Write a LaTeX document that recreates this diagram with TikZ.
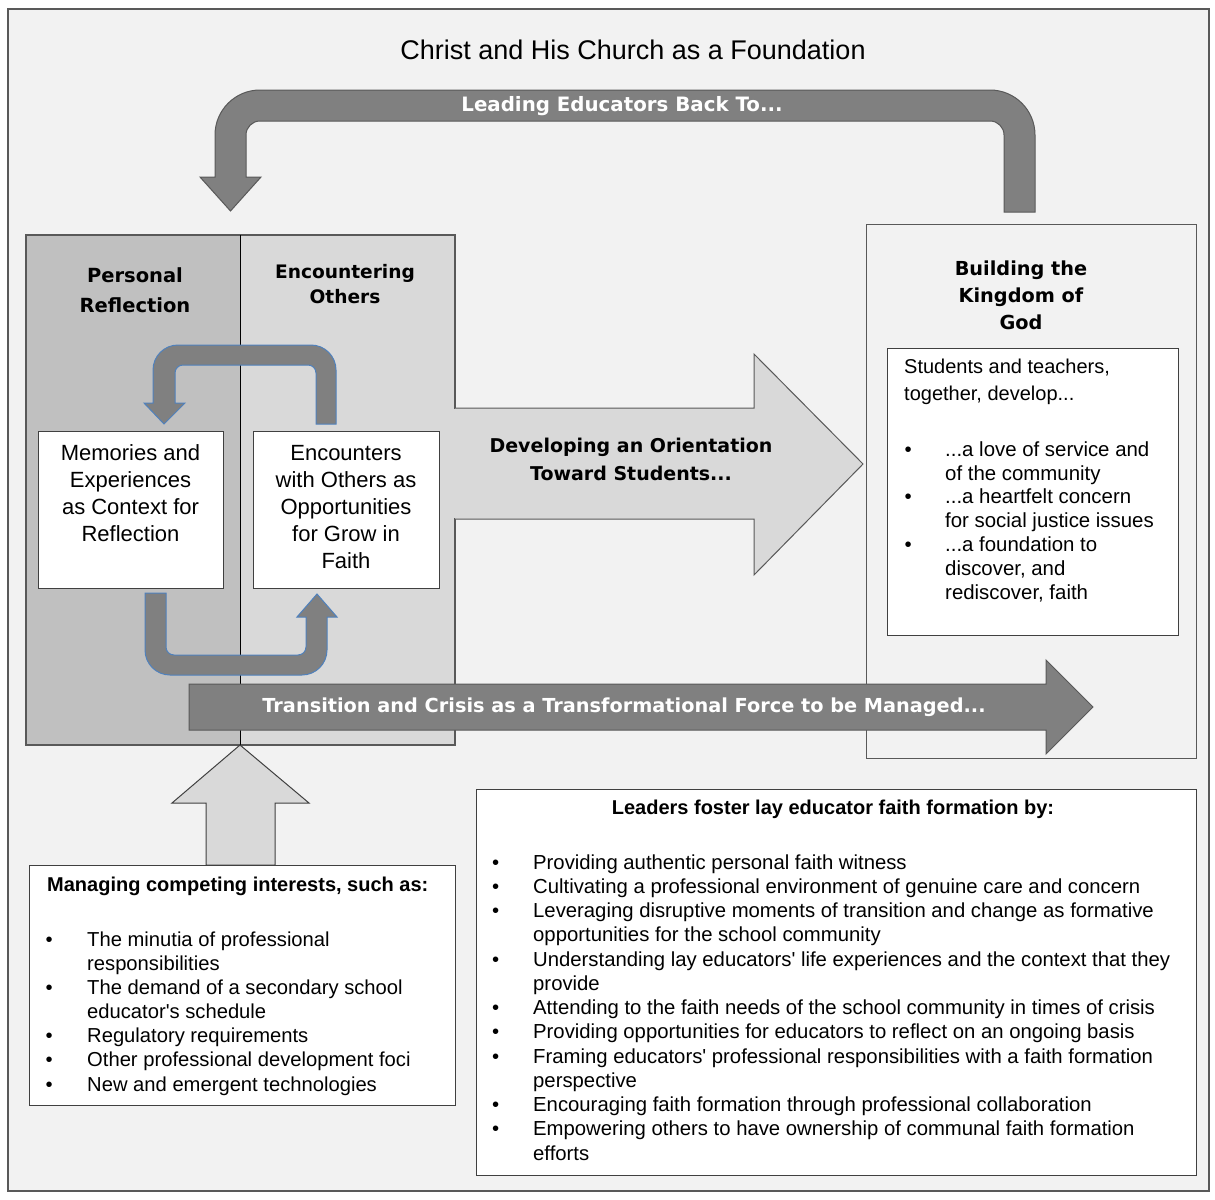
\documentclass[tikz,border=0pt]{standalone}
\usepackage{fontspec}
\setmainfont{Liberation Sans}[Ligatures=TeXOff]
\newfontfamily\hfont{DejaVu Sans}
\definecolor{bgc}{HTML}{F2F2F2}
\definecolor{darkfill}{HTML}{808080}
\definecolor{darkline}{HTML}{595959}
\definecolor{midfill}{HTML}{C0C0C0}
\definecolor{lightfill}{HTML}{D9D9D9}
\definecolor{bluel}{HTML}{4F81BD}
\definecolor{edge}{HTML}{404040}
\begin{document}
\begin{tikzpicture}[x=1pt,y=1pt,
  hd/.style={font=\hfont\bfseries\fontsize{19.3}{27}\selectfont, inner sep=0pt},
  body/.style={font=\fontsize{22}{27}\selectfont, inner sep=0pt},
  whitebox/.style={draw=edge, line width=1.2pt, fill=white, inner sep=0pt, anchor=north west},
  darkarrow/.style={fill=darkfill, draw=darkline, line width=1pt},
  lightarrow/.style={fill=lightfill, draw=darkline, line width=1pt},
  looparrow/.style={fill=darkfill, draw=bluel, line width=1pt},
  listnode/.style={anchor=north west, inner sep=0pt}]
\useasboundingbox (0,0) rectangle (1215,-1199);
\fill[white] (0,0) rectangle (1215,-1199);
% outer frame
\draw[draw=darkline, line width=1.2pt, fill=bgc] (8,-9) rectangle (1209,-1191);
\node (title) [inner sep=0pt, font=\fontsize{27}{30}\selectfont] at (633,-50) {Christ and His Church as a Foundation};

% left panel
\fill[midfill] (26,-235) rectangle (240,-745);
\fill[lightfill] (240,-235) rectangle (455,-745);
\draw[darkline, line width=1.2pt] (26,-235) rectangle (455,-745);
\draw[black, line width=0.8pt] (240,-235) -- (240,-745);
\node (pr) [hd, align=center, font=\hfont\bfseries\fontsize{19.5}{30}\selectfont] at (135,-290) {Personal\\Reflection};
\node (eo) [hd, align=center, font=\hfont\bfseries\fontsize{18.6}{25}\selectfont] at (345,-284) {Encountering\\Others};

% loop arrows
\draw[looparrow] (336,-424) -- (336,-370) arc[start angle=0,end angle=90,radius=25]
  -- (178,-345) arc[start angle=90,end angle=180,radius=25]
  -- (153,-403) -- (144,-403) -- (164,-424) -- (185,-403) -- (175,-403)
  -- (175,-373) arc[start angle=180,end angle=90,radius=8]
  -- (308,-365) arc[start angle=90,end angle=0,radius=8]
  -- (316,-424) -- cycle;
\draw[looparrow] (145,-593) -- (145,-650) arc[start angle=180,end angle=270,radius=25]
  -- (302,-675) arc[start angle=270,end angle=360,radius=25]
  -- (327,-617) -- (337,-617) -- (317,-594) -- (297,-617) -- (306,-617)
  -- (306,-647) arc[start angle=0,end angle=-90,radius=8]
  -- (174,-655) arc[start angle=270,end angle=180,radius=8]
  -- (166,-593) -- cycle;

% inner boxes
\node (mem) [whitebox, minimum width=185pt, minimum height=157pt] at (38,-431) {};
\node (memt) [body, align=center] at (130.5,-493) {Memories and\\Experiences\\as Context for\\Reflection};
\node (enc) [whitebox, minimum width=186pt, minimum height=157pt] at (253,-431) {};
\node (enct) [body, align=center] at (346,-507) {Encounters\\with Others as\\Opportunities\\for Grow in\\Faith};

% developing arrow
\draw[lightarrow] (455,-408) -- (754,-408) -- (754,-354) -- (863,-464) -- (754,-575) -- (754,-519) -- (455,-519);
\fill[lightfill] (454,-409) rectangle (456,-518);
\node (dev) [hd, align=center, font=\hfont\bfseries\fontsize{19}{28}\selectfont] at (631,-459) {Developing an Orientation\\Toward Students...};

% right box
\node (kb) [draw=darkline, fill=bgc, line width=1pt, minimum width=330pt, minimum height=534pt, anchor=north west, inner sep=0pt] at (866,-224) {};
\node (kt) [hd, align=center] at (1021,-295) {Building the\\Kingdom of\\God};
\node (kin) [whitebox, minimum width=291pt, minimum height=287pt] at (887,-348) {};
\node (kh) [listnode, font=\fontsize{20}{27}\selectfont] at (904,-354) {\begin{tabular}{@{}l@{}}Students and teachers,\\together, develop...\end{tabular}};
\node (kl) [listnode, font=\fontsize{20.4}{23.83}\selectfont] at (904.5,-439.3) {\begin{tabular}{@{}p{40.5pt}@{}l@{}}
\textbullet & ...a love of service and\\
 & of the community\\
\textbullet & ...a heartfelt concern\\
 & for social justice issues\\
\textbullet & ...a foundation to\\
 & discover, and\\
 & rediscover, faith
\end{tabular}};

% transition arrow
\draw[darkarrow] (189,-684) -- (1046,-684) -- (1046,-660) -- (1093,-707) -- (1046,-754) -- (1046,-730) -- (189,-730) -- cycle;
\node (trans) [hd, text=white] at (624,-707) {Transition and Crisis as a Transformational Force to be Managed...};

% top arrow
\draw[darkarrow] (1035,-212) -- (1035,-135) arc[start angle=0,end angle=90,radius=45]
  -- (260,-90) arc[start angle=90,end angle=180,radius=45]
  -- (215,-177) -- (200,-177) -- (230.5,-211) -- (261,-177) -- (246,-177)
  -- (246,-135) arc[start angle=180,end angle=90,radius=14]
  -- (990,-121) arc[start angle=90,end angle=0,radius=14]
  -- (1004,-212) -- cycle;
\node (lead) [hd, text=white, font=\hfont\bfseries\fontsize{19.8}{27}\selectfont] at (622,-106) {Leading Educators Back To...};

% up arrow
\draw[lightarrow, draw=edge] (206,-865) -- (206,-803) -- (172,-803) -- (240,-745) -- (309,-803) -- (275,-803) -- (275,-865) -- cycle;

% managing box
\node (mb) [whitebox, minimum width=426pt, minimum height=240pt] at (29,-865) {};
\node (mt) [anchor=base west, inner sep=0pt, font=\bfseries\fontsize{20}{24}\selectfont] at (47,-891) {Managing competing interests, such as:};
\node (ml) [listnode, font=\fontsize{20.2}{24.17}\selectfont] at (45.5,-929) {\begin{tabular}{@{}p{41.5pt}@{}l@{}}
\textbullet & The minutia of professional\\
 & responsibilities\\
\textbullet & The demand of a secondary school\\
 & educator's schedule\\
\textbullet & Regulatory requirements\\
\textbullet & Other professional development foci\\
\textbullet & New and emergent technologies
\end{tabular}};

% leaders box
\node (lb) [whitebox, minimum width=720pt, minimum height=386pt] at (476,-789) {};
\node (lt) [anchor=base, inner sep=0pt, font=\bfseries\fontsize{20}{24}\selectfont] at (833,-814) {Leaders foster lay educator faith formation by:};
\node (ll) [listnode, font=\fontsize{20.3}{24.25}\selectfont] at (492,-852) {\begin{tabular}{@{}p{41pt}@{}l@{}}
\textbullet & Providing authentic personal faith witness\\
\textbullet & Cultivating a professional environment of genuine care and concern\\
\textbullet & Leveraging disruptive moments of transition and change as formative\\
 & opportunities for the school community\\
\textbullet & Understanding lay educators' life experiences and the context that they\\
 & provide\\
\textbullet & Attending to the faith needs of the school community in times of crisis\\
\textbullet & Providing opportunities for educators to reflect on an ongoing basis\\
\textbullet & Framing educators' professional responsibilities with a faith formation\\
 & perspective\\
\textbullet & Encouraging faith formation through professional collaboration\\
\textbullet & Empowering others to have ownership of communal faith formation\\
 & efforts
\end{tabular}};
\end{tikzpicture}
\end{document}
